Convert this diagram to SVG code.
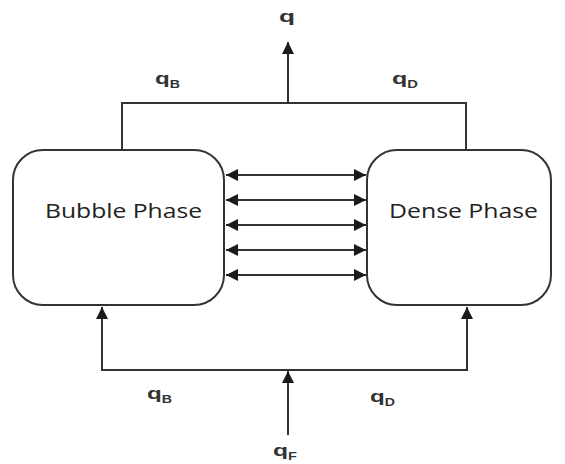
<svg xmlns="http://www.w3.org/2000/svg" width="565" height="464" viewBox="0 0 565 464">
<defs>
<marker id="ah" viewBox="0 0 10 10" refX="10" refY="5" markerWidth="12" markerHeight="12" markerUnits="userSpaceOnUse" orient="auto-start-reverse">
<path d="M0,0 L10,5 L0,10 z" fill="#1a1a1a"/>
</marker>
</defs>
<style>
.box{fill:#fff;stroke:#333;stroke-width:2}
.ln{fill:none;stroke:#333;stroke-width:2}
.lbl{font-family:"Liberation Sans",Arial,sans-serif;font-size:17px;font-weight:bold;fill:#333}
.sub{font-size:10px;font-weight:bold}
.nt{font-family:"Open Sans","DejaVu Sans",sans-serif;font-size:20px;fill:#222}
</style>
<rect width="565" height="464" fill="#fff"/>
<g id="bubble">
<rect class="box" x="13" y="150" width="211" height="155" rx="30" ry="30"/>
<text class="nt" x="45" y="218" textLength="157" lengthAdjust="spacingAndGlyphs">Bubble Phase</text>
</g>
<g id="dense">
<rect class="box" x="367" y="150" width="184" height="155" rx="30" ry="30"/>
<text class="nt" x="389" y="218" textLength="149" lengthAdjust="spacingAndGlyphs">Dense Phase</text>
</g>
<g id="connectors">
<polyline class="ln" points="122,150 122,103 466,103 466,150"/>
<line class="ln" x1="288" y1="103" x2="288" y2="42" marker-end="url(#ah)"/>
<line class="ln" x1="226" y1="175" x2="366" y2="175" marker-start="url(#ah)" marker-end="url(#ah)"/>
<line class="ln" x1="226" y1="200" x2="366" y2="200" marker-start="url(#ah)" marker-end="url(#ah)"/>
<line class="ln" x1="226" y1="225" x2="366" y2="225" marker-start="url(#ah)" marker-end="url(#ah)"/>
<line class="ln" x1="226" y1="250" x2="366" y2="250" marker-start="url(#ah)" marker-end="url(#ah)"/>
<line class="ln" x1="226" y1="275" x2="366" y2="275" marker-start="url(#ah)" marker-end="url(#ah)"/>
<polyline class="ln" points="102,307 102,370 467,370 467,307" marker-start="url(#ah)" marker-end="url(#ah)"/>
<line class="ln" x1="288" y1="435" x2="288" y2="371" marker-end="url(#ah)"/>
</g>
<g id="labels">
<text class="lbl" x="279" y="22" textLength="16" lengthAdjust="spacingAndGlyphs">q</text>
<text class="lbl" x="155" y="84" textLength="25" lengthAdjust="spacingAndGlyphs">q<tspan class="sub" dy="4">B</tspan></text>
<text class="lbl" x="392" y="84" textLength="26" lengthAdjust="spacingAndGlyphs">q<tspan class="sub" dy="4">D</tspan></text>
<text class="lbl" x="147" y="399" textLength="25" lengthAdjust="spacingAndGlyphs">q<tspan class="sub" dy="4">B</tspan></text>
<text class="lbl" x="370" y="402" textLength="25" lengthAdjust="spacingAndGlyphs">q<tspan class="sub" dy="4">D</tspan></text>
<text class="lbl" x="273" y="456" textLength="24" lengthAdjust="spacingAndGlyphs">q<tspan class="sub" dy="4">F</tspan></text>
</g>
</svg>
